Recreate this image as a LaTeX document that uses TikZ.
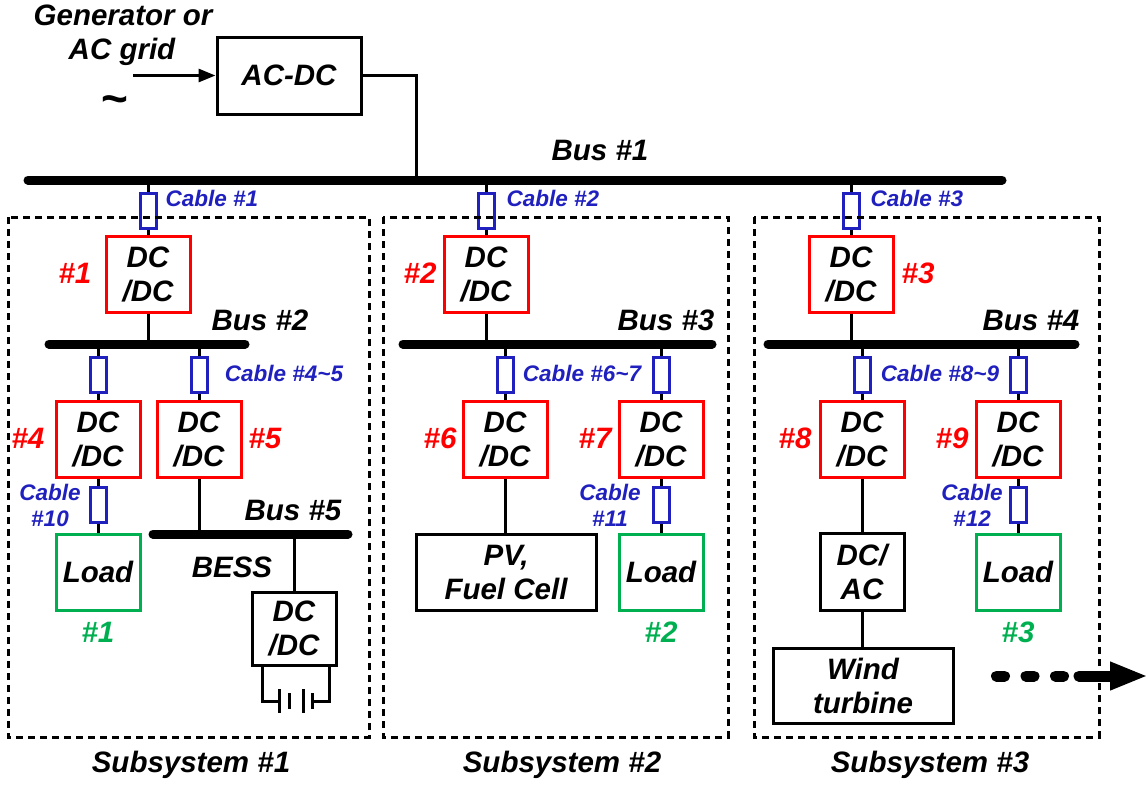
\documentclass[tikz,border=0pt]{standalone}
\usepackage{fontspec}
\setmainfont{Liberation Sans}
\usetikzlibrary{arrows.meta}
\definecolor{cred}{RGB}{255,0,0}
\definecolor{cblue}{RGB}{32,32,190}
\definecolor{cgreen}{RGB}{0,176,80}
\newcommand\fbig{\fontsize{29.5}{34}\selectfont\bfseries\itshape}
\newcommand\fsmall{\fontsize{22.5}{26}\selectfont\bfseries\itshape}
\newcommand\tld{{\char"7E\relax}}
\begin{document}
\begin{tikzpicture}[x=1pt,y=-1pt,
 box/.style={draw, line width=3pt, minimum width=84pt, minimum height=76pt, align=center, inner sep=0pt, font=\fbig},
 conv/.style={box, draw=cred},
 blk/.style={box, draw=black},
 ld/.style={box, draw=cgreen},
 res/.style={draw=cblue, line width=3pt, fill=white, minimum width=16pt, minimum height=35pt, inner sep=0pt},
 bus/.style={line width=9pt, line cap=round},
 wire/.style={line width=3pt},
 lbl/.style={font=\fbig, inner sep=0pt, align=center},
 rlbl/.style={lbl, text=cred},
 glbl/.style={lbl, text=cgreen},
 clbl/.style={font=\fsmall, text=cblue, inner sep=0pt, align=center},
 sub/.style={draw, line width=3pt, dash pattern=on 7pt off 5pt},
]
\useasboundingbox (0,0) rectangle (1148,787);

% ---- top ----
\node[lbl] (gtxt) at (123,15) {Generator or};
\node[lbl] (agtxt) at (122,52) {AC grid};
\node[lbl, font=\fontsize{46}{46}\selectfont\bfseries] (tilde) at (115,105) {\tld};
\node[blk, minimum width=144pt, minimum height=77pt] (acdc) at (289,75.5) {AC-DC};
\coordinate (gen) at (133,75.5);
\draw[wire, -{Triangle[length=17pt,width=13pt]}] (gen) -- (acdc.west);
\coordinate (b1L) at (28,180);
\coordinate (b1R) at (1002,180);
\coordinate (b1t) at (416,180);
\draw[bus] (b1L) -- (b1R);
\draw[wire] (acdc.east) -| (b1t);
\node[lbl] (bus1) at (600,150) {Bus \#1};

% ---- subsystem 1 ----
\coordinate (b1a) at (148,180);
\node[res] (r1) at (148,210.5) {};
\node[conv] (c1) at (148,274) {DC\\/DC};
\draw[wire] (b1a) -- (r1) -- (c1);
\node[clbl] (cab1) at (212,198) {Cable \#1};
\node[rlbl] (n1) at (75,273) {\#1};
\coordinate (b2L) at (49,344);
\coordinate (b2R) at (245,344);
\draw[bus] (b2L) -- (b2R);
\coordinate (b2a) at (148,344);
\draw[wire] (c1) -- (b2a);
\node[lbl] (bus2) at (260,320) {Bus \#2};
\coordinate (b2b) at (98,344);
\coordinate (b2c) at (199,344);
\node[res] (r4) at (98,374.5) {};
\node[res] (r5) at (199,374.5) {};
\node[conv] (c4) at (98,439.5) {DC\\/DC};
\node[conv] (c5) at (199,439.5) {DC\\/DC};
\draw[wire] (b2b) -- (r4) -- (c4);
\draw[wire] (b2c) -- (r5) -- (c5);
\node[clbl] (cab45) at (284,373) {Cable \#4\tld5};
\node[rlbl] (n4) at (28,438) {\#4};
\node[rlbl] (n5) at (265,438) {\#5};
\node[res] (r10) at (98,505) {};
\node[ld] (load1) at (98,572) {Load};
\draw[wire] (c4) -- (r10) -- (load1);
\node[clbl] (cab10) at (50,505) {Cable\\\#10};
\node[glbl] (g1) at (98,632) {\#1};
\coordinate (b5L) at (153,534);
\coordinate (b5R) at (348,534);
\draw[bus] (b5L) -- (b5R);
\coordinate (b5a) at (199,534);
\draw[wire] (c5) -- (b5a);
\node[lbl] (bus5) at (293,510) {Bus \#5};
\node[lbl] (besst) at (232,567) {BESS};
\coordinate (b5b) at (294,534);
\node[blk, minimum height=73pt] (bess) at (294,628.5) {DC\\/DC};
\draw[wire] (b5b) -- (bess);
\draw[wire] (262,665) |- (279,701);
\draw[wire] (329,665) |- (312,701);
\draw[wire] (279,689) -- (279,713);
\draw[wire] (289,693) -- (289,709);
\draw[wire] (303,689) -- (303,713);
\draw[wire] (312,693) -- (312,709);
\node[lbl] (s1) at (191,765) {Subsystem \#1};

% ---- subsystem 2 ----
\coordinate (b1b) at (486,180);
\node[res] (r2) at (486,210.5) {};
\node[conv] (c2) at (486,274) {DC\\/DC};
\draw[wire] (b1b) -- (r2) -- (c2);
\node[clbl] (cab2) at (553,198) {Cable \#2};
\node[rlbl] (n2) at (420,273) {\#2};
\coordinate (b3L) at (403,344);
\coordinate (b3R) at (712,344);
\draw[bus] (b3L) -- (b3R);
\coordinate (b3a) at (486,344);
\draw[wire] (c2) -- (b3a);
\node[lbl] (bus3) at (666,320) {Bus \#3};
\coordinate (b3b) at (505,344);
\coordinate (b3c) at (661,344);
\node[res] (r6) at (505,374.5) {};
\node[res] (r7) at (661,374.5) {};
\node[conv] (c6) at (505,439.5) {DC\\/DC};
\node[conv] (c7) at (661,439.5) {DC\\/DC};
\draw[wire] (b3b) -- (r6) -- (c6);
\draw[wire] (b3c) -- (r7) -- (c7);
\node[clbl] (cab67) at (582,373) {Cable \#6\tld7};
\node[rlbl] (n6) at (440,438) {\#6};
\node[rlbl] (n7) at (595,438) {\#7};
\node[blk, minimum width=180pt] (pv) at (506,572) {PV,\\Fuel Cell};
\draw[wire] (c6) -- (c6 |- pv.north);
\node[res] (r11) at (661,505) {};
\node[ld] (load2) at (661,572) {Load};
\draw[wire] (c7) -- (r11) -- (load2);
\node[clbl] (cab11) at (610,505) {Cable\\\#11};
\node[glbl] (g2) at (661,632) {\#2};
\node[lbl] (s2) at (562,765) {Subsystem \#2};

% ---- subsystem 3 ----
\coordinate (b1c) at (851,180);
\node[res] (r3) at (851,210.5) {};
\node[conv] (c3) at (851,274) {DC\\/DC};
\draw[wire] (b1c) -- (r3) -- (c3);
\node[clbl] (cab3) at (917,198) {Cable \#3};
\node[rlbl] (n3) at (918,273) {\#3};
\coordinate (b4L) at (768,344);
\coordinate (b4R) at (1075,344);
\draw[bus] (b4L) -- (b4R);
\coordinate (b4a) at (851,344);
\draw[wire] (c3) -- (b4a);
\node[lbl] (bus4) at (1031,320) {Bus \#4};
\coordinate (b4b) at (862,344);
\coordinate (b4c) at (1018,344);
\node[res] (r8) at (862,374.5) {};
\node[res] (r9) at (1018,374.5) {};
\node[conv] (c8) at (862,439.5) {DC\\/DC};
\node[conv] (c9) at (1018,439.5) {DC\\/DC};
\draw[wire] (b4b) -- (r8) -- (c8);
\draw[wire] (b4c) -- (r9) -- (c9);
\node[clbl] (cab89) at (940,373) {Cable \#8\tld9};
\node[rlbl] (n8) at (795,438) {\#8};
\node[rlbl] (n9) at (952,438) {\#9};
\node[blk, minimum height=77pt] (dcac) at (862,571.5) {DC/\\AC};
\draw[wire] (c8) -- (dcac);
\node[blk, minimum width=180pt, minimum height=75pt] (wind) at (863,685.5) {Wind\\turbine};
\draw[wire] (dcac) -- (dcac |- wind.north);
\node[res] (r12) at (1018,505) {};
\node[ld] (load3) at (1018,572) {Load};
\draw[wire] (c9) -- (r12) -- (load3);
\node[clbl] (cab12) at (972,505) {Cable\\\#12};
\node[glbl] (g3) at (1018,632) {\#3};
\node[lbl] (s3) at (930,765) {Subsystem \#3};

% ---- subsystem frames ----
\draw[sub] (8,217) rectangle (369,737);
\draw[sub] (383,217) rectangle (728,737);
\draw[sub] (754,217) rectangle (1099,737);

% ---- continuation arrow ----
\coordinate (da1) at (996.5,676);
\coordinate (da2) at (1066,676);
\coordinate (da3) at (1079,676);
\coordinate (da4) at (1148,676);
\draw[line width=11pt, line cap=round, dash pattern=on 8pt off 21.5pt] (da1) -- (da2);
\draw[line width=11pt, line cap=round, -{Triangle[length=38pt,width=26pt]}] (da3) -- (da4);
\end{tikzpicture}
\end{document}
